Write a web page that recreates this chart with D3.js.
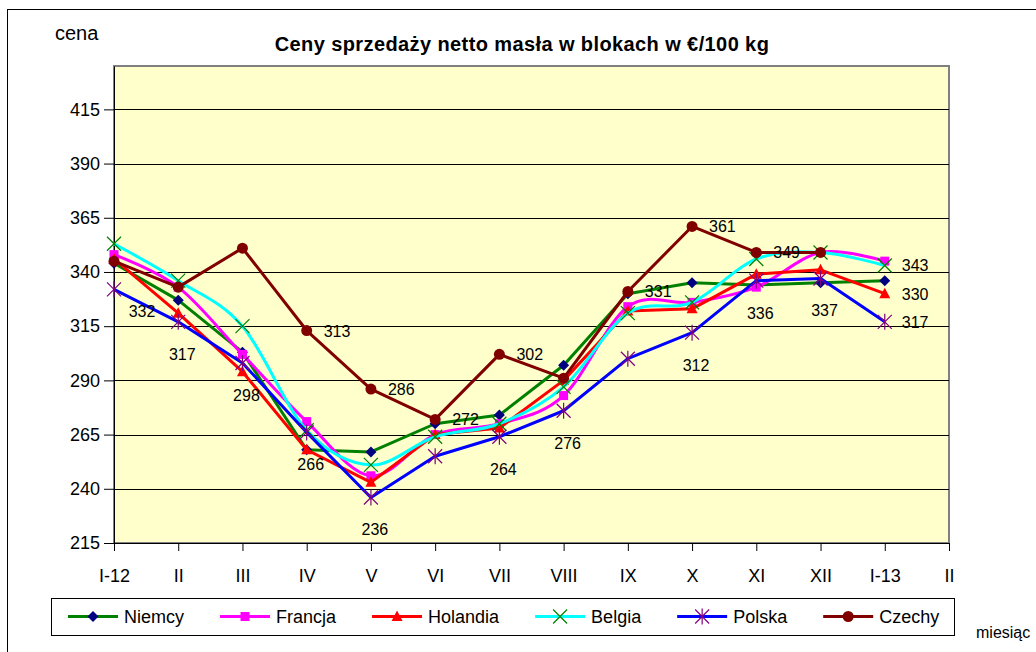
<!DOCTYPE html>
<html>
<head>
<meta charset="utf-8">
<script src="https://cdn.jsdelivr.net/npm/d3@7.9.0/dist/d3.min.js"></script>
<style>
  body { margin: 0; background: #fff; }
  svg { display: block; font-family: Arial, "Liberation Sans", sans-serif; }
</style>
</head>
<body>
<svg id="chart" width="1036" height="652"></svg>
<script>
// categories (months), last "II" has no data
const months = ['I-12', 'II', 'III', 'IV', 'V', 'VI', 'VII', 'VIII', 'IX', 'X', 'XI', 'XII', 'I-13', 'II'];
const yTicks = [215, 240, 265, 290, 315, 340, 365, 390, 415];

// prices in EUR/100 kg
const niemcy  = [344, 327, 303, 258, 257, 270, 274, 297, 330, 335, 334, 335, 336];
const francja = [348, 333, 302, 271, 246, 265, 270, 283, 324, 326, 333, 349, 345];
const holandia = [346, 321, 294, 258, 243, 265, 268, 290, 322, 323, 339, 341, 330];
const belgia  = [353, 336, 315, 267, 251, 264, 270, 287, 321, 326, 346, 349, 343];
const polska  = [332, 317, 298, 266, 236, 255, 264, 276, 300, 312, 336, 337, 317];
const czechy  = [345, 333, 351, 313, 286, 272, 302, 291, 331, 361, 349, 349, null];

const seriesNames = ['Niemcy', 'Francja', 'Holandia', 'Belgia', 'Polska', 'Czechy'];
const seriesData = [niemcy, francja, holandia, belgia, polska, czechy];

// which points carry a value label
const labelled = [
  ['Polska', 0, 'belowRight'], ['Polska', 1, 'below'], ['Polska', 2, 'below'],
  ['Polska', 3, 'below'], ['Polska', 4, 'below'], ['Polska', 6, 'below'],
  ['Polska', 7, 'below'], ['Polska', 9, 'below'], ['Polska', 10, 'below'],
  ['Polska', 11, 'below'], ['Polska', 12, 'right'],
  ['Czechy', 3, 'right'], ['Czechy', 4, 'right'], ['Czechy', 5, 'right'],
  ['Czechy', 6, 'right'], ['Czechy', 8, 'right'], ['Czechy', 9, 'right'],
  ['Czechy', 10, 'right'],
  ['Holandia', 12, 'right'], ['Belgia', 12, 'right']
];

// styling per series
const styles = {
  Niemcy:   { line: '#008000', marker: '#000080', shape: 'diamond', smooth: false },
  Francja:  { line: '#ff00ff', marker: '#ff00ff', shape: 'square', smooth: true },
  Holandia: { line: '#ff0000', marker: '#ff0000', shape: 'triangle', smooth: false },
  Belgia:   { line: '#00ffff', marker: '#008000', shape: 'x', smooth: true },
  Polska:   { line: '#0000ff', marker: '#800080', shape: 'star', smooth: false },
  Czechy:   { line: '#800000', marker: '#800000', shape: 'circle', smooth: false }
};

const svg = d3.select('#chart');

// outer chart frame
svg.append('rect')
  .attr('x', 7.5).attr('y', 9.5)
  .attr('width', 1100).attr('height', 700)
  .attr('fill', 'none').attr('stroke', '#000');

const plotLeft = 114, plotRight = 949, plotTop = 66, plotBottom = 543;

const x = d3.scalePoint().domain(d3.range(months.length)).range([plotLeft, plotRight]);
const y = d3.scaleLinear().domain([215, 435]).range([plotBottom, plotTop]);

// plot area
svg.append('rect')
  .attr('x', plotLeft).attr('y', y(435))
  .attr('width', plotRight - plotLeft).attr('height', plotBottom - y(435))
  .attr('fill', '#ffffcc')
  .attr('stroke', '#808080').attr('stroke-width', 2);

// gridlines
svg.append('g')
  .selectAll('line')
  .data(yTicks.slice(1))
  .join('line')
  .attr('x1', plotLeft).attr('x2', plotRight)
  .attr('y1', d => Math.round(y(d)) + 0.5).attr('y2', d => Math.round(y(d)) + 0.5)
  .attr('stroke', '#000').attr('stroke-width', 1);

// axes
const yAxis = svg.append('g')
  .attr('transform', `translate(${plotLeft},0)`)
  .call(d3.axisLeft(y).tickValues(yTicks).tickSize(10).tickPadding(4).tickSizeOuter(0));
yAxis.select('.domain').attr('stroke', '#000');
yAxis.selectAll('text').attr('font-size', 18).attr('fill', '#000')
  .attr('font-family', 'Arial, "Liberation Sans", sans-serif');

const xAxis = svg.append('g')
  .attr('transform', `translate(0,${plotBottom})`)
  .call(d3.axisBottom(x).tickFormat(i => months[i]).tickSize(8).tickSizeOuter(0));
xAxis.select('.domain').attr('stroke', '#000');
xAxis.selectAll('text')
  .attr('font-size', 18).attr('fill', '#000')
  .attr('y', 39).attr('dy', 0)
  .attr('font-family', 'Arial, "Liberation Sans", sans-serif');

// marker shapes
function markerPath(shape) {
  switch (shape) {
    case 'diamond': return 'M0,-5.5L5.5,0L0,5.5L-5.5,0Z';
    case 'square': return 'M-4.5,-4.5H4.5V4.5H-4.5Z';
    case 'triangle': return 'M0,-6L5.5,4.5H-5.5Z';
    case 'x': return 'M-7,-7L7,7M-7,7L7,-7';
    case 'star': return 'M-7,-7L7,7M-7,7L7,-7M0,-8V8';
    default: return null;
  }
}

function drawMarker(g, shape, color) {
  if (shape === 'circle') {
    g.append('circle').attr('r', 5.5).attr('fill', color);
  } else if (shape === 'x' || shape === 'star') {
    g.append('path').attr('d', markerPath(shape))
      .attr('fill', 'none').attr('stroke', color).attr('stroke-width', 1.2);
  } else {
    g.append('path').attr('d', markerPath(shape)).attr('fill', color);
  }
}

// series
seriesNames.forEach((name, si) => {
  const st = styles[name];
  const pts = seriesData[si].map((v, i) => ({ i, v })).filter(d => d.v !== null);
  const line = d3.line()
    .x(d => x(d.i)).y(d => y(d.v))
    .curve(st.smooth ? d3.curveCardinal.tension(0) : d3.curveLinear);
  const g = svg.append('g');
  g.append('path')
    .attr('d', line(pts))
    .attr('fill', 'none')
    .attr('stroke', st.line)
    .attr('stroke-width', 3)
    .attr('stroke-linejoin', 'round');
  pts.forEach(d => {
    const m = g.append('g').attr('transform', `translate(${x(d.i)},${y(d.v)})`);
    drawMarker(m, st.shape, st.marker);
  });
});

// value labels
const labelG = svg.append('g').attr('font-size', 16).attr('fill', '#000');
labelled.forEach(([name, i, place]) => {
  const v = seriesData[seriesNames.indexOf(name)][i];
  const px = x(i), py = y(v);
  const t = labelG.append('text').text(v);
  if (place === 'right') {
    t.attr('x', px + 17).attr('y', py + 6).attr('text-anchor', 'start');
  } else if (place === 'belowRight') {
    t.attr('x', px + 28).attr('y', py + 28).attr('text-anchor', 'middle');
  } else {
    t.attr('x', px + 4).attr('y', py + 38).attr('text-anchor', 'middle');
  }
});

// title and axis names
svg.append('text')
  .attr('x', 522).attr('y', 51)
  .attr('text-anchor', 'middle')
  .attr('font-size', 20).attr('font-weight', 'bold')
  .attr('letter-spacing', 0.4)
  .text('Ceny sprzedaży netto masła w blokach w €/100 kg');

svg.append('text')
  .attr('x', 55).attr('y', 40)
  .attr('font-size', 20)
  .text('cena');

// reference clips this at the window edge; kept small enough to stay readable
svg.append('text')
  .attr('x', 976).attr('y', 638)
  .attr('font-size', 16)
  .text('miesiąc');

// legend
svg.append('rect')
  .attr('x', 51.5).attr('y', 598.5)
  .attr('width', 903).attr('height', 37)
  .attr('fill', '#fff').attr('stroke', '#000');

let lx = 68;
const ly = 616.5;
seriesNames.forEach(name => {
  const st = styles[name];
  const g = svg.append('g');
  g.append('line')
    .attr('x1', lx).attr('x2', lx + 50)
    .attr('y1', ly).attr('y2', ly)
    .attr('stroke', st.line).attr('stroke-width', 3);
  const m = g.append('g').attr('transform', `translate(${lx + 25},${ly})`);
  drawMarker(m, st.shape, st.marker);
  const t = g.append('text')
    .attr('x', lx + 56).attr('y', ly + 6)
    .attr('font-size', 18)
    .text(name);
  lx = lx + 56 + t.node().getComputedTextLength() + 36;
});
</script>
</body>
</html>
